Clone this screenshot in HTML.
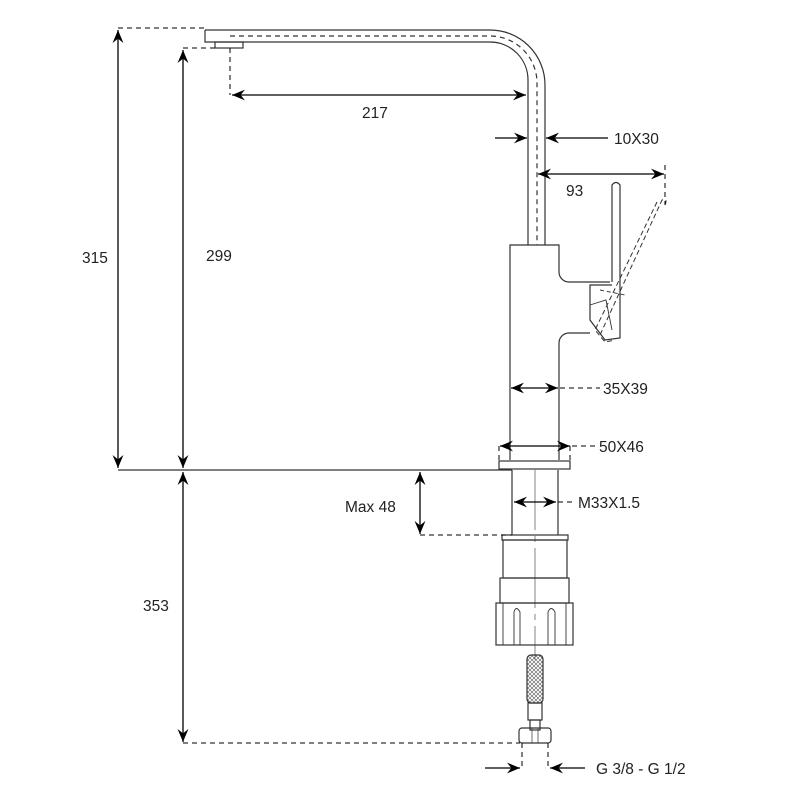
<!DOCTYPE html>
<html><head><meta charset="utf-8"><style>
html,body{margin:0;padding:0;background:#fff}
svg{display:block}
text{font-family:"Liberation Sans",sans-serif;font-size:15.5px;fill:#222}
</style></head><body>
<svg width="800" height="800" viewBox="0 0 800 800" xmlns="http://www.w3.org/2000/svg">
<defs>
<marker id="a" viewBox="0 0 12 10" refX="12" refY="5" markerWidth="13" markerHeight="11" orient="auto-start-reverse" markerUnits="userSpaceOnUse"><path d="M0,0 L12,5 L0,10 L4,5z" fill="#000"/></marker>
<pattern id="mesh" width="4" height="4" patternUnits="userSpaceOnUse"><path d="M0,0L4,4M4,0L0,4" stroke="#555" stroke-width="0.6"/></pattern>
</defs>
<g fill="none" stroke="#333" stroke-width="1.2">
<path d="M205,30 L490,30 A55,55 0 0 1 545,85 L545,245"/>
<path d="M215,42 L490,42 A38,38 0 0 1 528,80 L528,245"/>
<path d="M205,30 L205,42 L215,42"/>
<rect x="215" y="42" width="28" height="6"/>
<path d="M230,36 L490,36 A47,47 0 0 1 537,83 L537,245" stroke-dasharray="5,4"/>
<path d="M510,460 L510,245 L559,245 L559,272 A10,10 0 0 0 569,282 L610,282"/>
<path d="M590,333 L569,333 A10,10 0 0 0 559,343 L559,460"/>
<path d="M612,282 L612,185 Q616,180 620,185 L620,338 L605,340 L590,320 L590,285 L612,285"/>
<path d="M590,305 L606,300 L612,330" stroke-width="0.9"/>
<path d="M665,205 Q668,198 662,200 L600,335" stroke-dasharray="5,3" stroke-width="1"/>
<path d="M657,202 L595,330 L605,342 L615,340" stroke-dasharray="5,3" stroke-width="1"/>
<path d="M600,290 L625,295" stroke-dasharray="4,3" stroke-width="0.9"/>
<rect x="499" y="461" width="71" height="8"/>
<path d="M118,470 L512,470"/>
<path d="M512,470 L512,535 M558,470 L558,535"/>
<path d="M535,470 L535,660" stroke-width="0.6" stroke-dasharray="60,6,6,6"/>
<rect x="502" y="535" width="66" height="5"/>
<rect x="503" y="540" width="64" height="38"/>
<rect x="500" y="578" width="69" height="25"/>
<rect x="496" y="603" width="77" height="42"/>
<path d="M514,645 L514,612 Q516,605 520,612 L520,645 M548,645 L548,612 Q551,605 555,612 L555,645 M503,603 L503,645 M566,603 L566,645" stroke-width="0.9"/>
<rect x="527" y="655" width="16" height="48" rx="4" fill="url(#mesh)"/>
<rect x="528" y="703" width="14" height="17"/>
<rect x="530" y="720" width="10" height="10"/>
<rect x="519" y="728" width="32" height="15" rx="3"/>
<path d="M532,728 L532,743 M538,728 L538,743" stroke-width="0.7"/>
</g>
<g fill="none" stroke="#000" stroke-width="1.3">
<path d="M118,468 L118,30" marker-start="url(#a)" marker-end="url(#a)"/>
<path d="M183,468 L183,50" marker-start="url(#a)" marker-end="url(#a)"/>
<path d="M232,95 L526,95" marker-start="url(#a)" marker-end="url(#a)"/>
<path d="M495,138 L527,138" marker-end="url(#a)"/>
<path d="M608,138 L546,138" marker-end="url(#a)"/>
<path d="M538,174 L664,174" marker-start="url(#a)" marker-end="url(#a)"/>
<path d="M511,388 L558,388" marker-start="url(#a)" marker-end="url(#a)"/>
<path d="M500,446 L570,446" marker-start="url(#a)" marker-end="url(#a)"/>
<path d="M514,502 L556,502" marker-start="url(#a)" marker-end="url(#a)"/>
<path d="M420,472 L420,534" marker-start="url(#a)" marker-end="url(#a)"/>
<path d="M183,472 L183,742" marker-start="url(#a)" marker-end="url(#a)"/>
<path d="M485,768 L520,768" marker-end="url(#a)"/>
<path d="M585,768 L550,768" marker-end="url(#a)"/>
</g>
<g fill="none" stroke="#000" stroke-width="1" stroke-dasharray="5,4">
<path d="M118,28 L205,28"/>
<path d="M183,48 L215,48"/>
<path d="M230,48 L230,95"/>
<path d="M665,165 L665,205"/>
<path d="M560,388 L600,388"/>
<path d="M572,446 L597,446"/>
<path d="M499,446 L499,461 M570,446 L570,461"/>
<path d="M558,502 L575,502"/>
<path d="M420,535 L512,535"/>
<path d="M183,743 L520,743"/>
<path d="M522,743 L522,770 M548,743 L548,770"/>
</g>
<text x="82" y="263">315</text>
<text x="206" y="261">299</text>
<text x="362" y="118">217</text>
<text x="614" y="144">10X30</text>
<text x="566" y="196">93</text>
<text x="603" y="394">35X39</text>
<text x="599" y="452">50X46</text>
<text x="578" y="508">M33X1.5</text>
<text x="345" y="512">Max 48</text>
<text x="143" y="611">353</text>
<text x="596" y="774">G 3/8 - G 1/2</text>
</svg>
</body></html>
